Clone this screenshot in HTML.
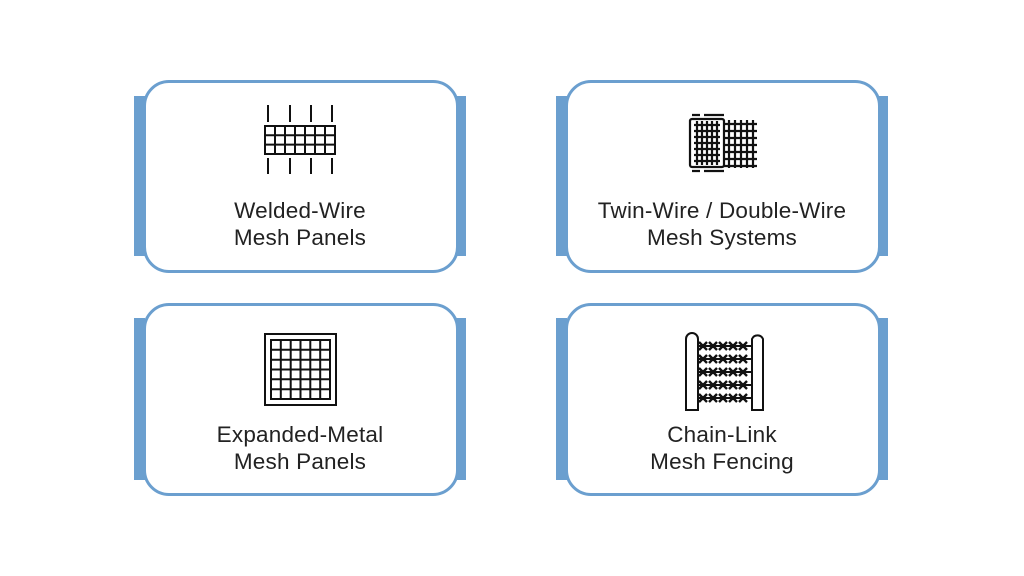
<!DOCTYPE html>
<html><head><style>
body{margin:0;width:1024px;height:576px;background:#fff;position:relative;overflow:hidden;font-family:"Liberation Sans",sans-serif}
.bar{position:absolute;width:11px;background:#6b9fcf}
.card{position:absolute;width:310px;height:187px;border:3px solid #6b9fcf;border-radius:26px;background:#fff;box-sizing:content-box}
.t{position:absolute;width:330px;text-align:center;font-size:22.5px;line-height:27px;color:#222;letter-spacing:0.2px}
svg{position:absolute;left:0;top:0}
</style></head><body>
<div class="bar" style="left:134px;top:96px;height:160px"></div>
<div class="bar" style="left:455px;top:96px;height:160px"></div>
<div class="card" style="left:143px;top:80px"></div>
<div class="bar" style="left:556px;top:96px;height:160px"></div>
<div class="bar" style="left:877px;top:96px;height:160px"></div>
<div class="card" style="left:565px;top:80px"></div>
<div class="bar" style="left:134px;top:318px;height:162px"></div>
<div class="bar" style="left:455px;top:318px;height:162px"></div>
<div class="card" style="left:143px;top:303px"></div>
<div class="bar" style="left:556px;top:318px;height:162px"></div>
<div class="bar" style="left:877px;top:318px;height:162px"></div>
<div class="card" style="left:565px;top:303px"></div>

<div class="t" style="left:135px;top:197px">Welded-Wire<br>Mesh Panels</div>
<div class="t" style="left:557px;top:197px">Twin-Wire / Double-Wire<br>Mesh Systems</div>
<div class="t" style="left:135px;top:421px">Expanded-Metal<br>Mesh Panels</div>
<div class="t" style="left:557px;top:421px">Chain-Link<br>Mesh Fencing</div>

<svg width="1024" height="576" stroke="#111" fill="none">
<g stroke-width="2">
<path d="M268 105V122M290 105V122M311 105V122M332 105V122M268 158V174M290 158V174M311 158V174M332 158V174"/>
<rect x="265" y="126" width="70" height="28"/>
<path d="M265 135.3H335M265 144.6H335M275 126V154M285 126V154M295 126V154M305 126V154M315 126V154M325 126V154"/>
</g>
<g stroke-width="2">
<rect x="265" y="334" width="71" height="71"/>
<rect x="271" y="340" width="59" height="59"/>
<path d="M271 349.8H330M271 359.7H330M271 369.5H330M271 379.3H330M271 389.2H330M280.8 340V399M290.7 340V399M300.5 340V399M310.3 340V399M320.2 340V399"/>
</g>
<g stroke-width="2.2">
<path d="M724 124H757M724 131H757M724 138H757M724 145H757M724 152H757M724 159H757M724 166H757M729 120V168M735 120V168M741 120V168M747 120V168M753 120V168"/>
<rect x="690" y="119" width="34" height="48" rx="2" fill="#fff"/>
<path d="M692 115H700M704 115H724M692 171H700M704 171H724"/>
<path d="M694 125H720M694 131H720M694 137H720M694 143H720M694 149H720M694 155H720M694 161H720M697 121V165M702 121V165M707 121V165M712 121V165M717 121V165"/>
</g>
<g stroke-width="2">
<path d="M686 410V339a6 6 0 0 1 12 0V410ZM752 410V339a6 6 0 0 1 11 0V410Z"/>
<path d="M698 346H752M698 359H752M698 372H752M698 385H752M698 398H752"/>
<g stroke-width="2.4">
<path id="x" d="M699 342l8 8M707 342l-8 8M709 342l8 8M717 342l-8 8M719 342l8 8M727 342l-8 8M729 342l8 8M737 342l-8 8M739 342l8 8M747 342l-8 8"/>
<use href="#x" y="13"/><use href="#x" y="26"/><use href="#x" y="39"/><use href="#x" y="52"/>
</g>
</g>
</svg>
</body></html>
